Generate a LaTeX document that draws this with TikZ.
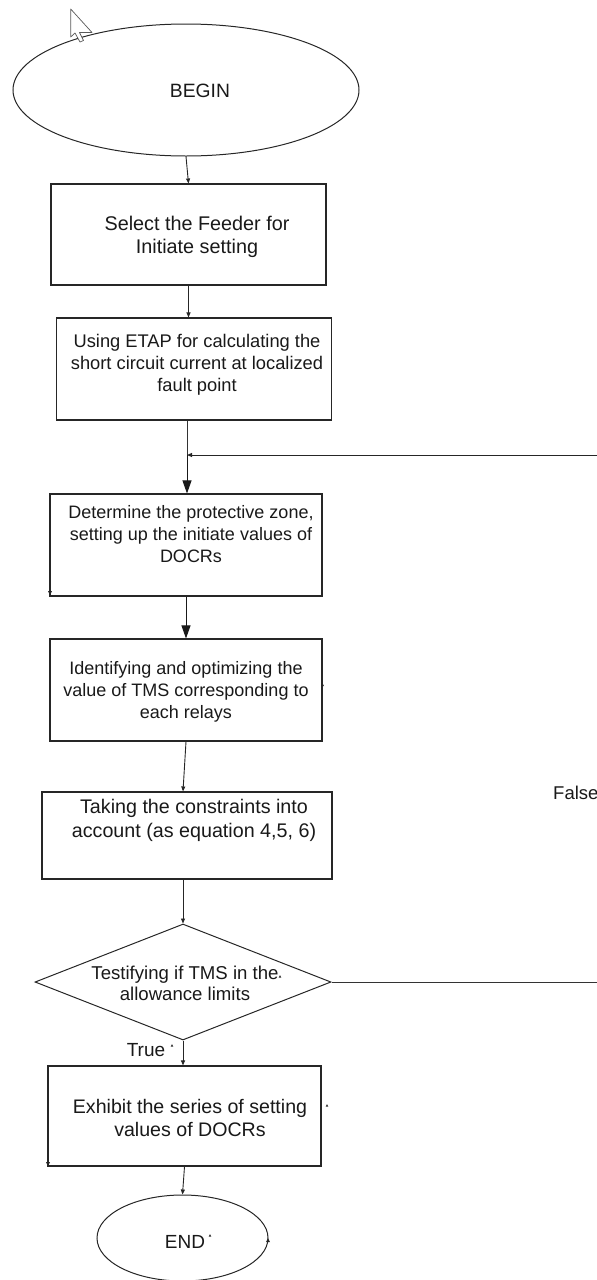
\documentclass[tikz,border=0pt]{standalone}
\usepackage{fontspec}
\setmainfont{Liberation Sans}
\usetikzlibrary{shapes.geometric,arrows.meta}
\begin{document}
\begin{tikzpicture}[x=1pt,y=-1pt,
  box/.style={draw=black!85, line width=1.1pt, inner sep=0pt},
  oval/.style={draw=black!85, line width=1pt, ellipse, inner sep=0pt},
  dia/.style={draw=black!85, line width=1pt, diamond, inner sep=0pt},
  txt/.style={font=\fontsize{18}{22}\selectfont, align=center, text=black!90, inner sep=0pt},
  big/.style={font=\fontsize{19.7}{23.5}\selectfont},
  arr/.style={draw=black!85, line width=0.9pt, -{Triangle[length=5pt,width=4pt]}},
  bigarr/.style={draw=black!90, line width=0.9pt, -{Triangle[length=13pt,width=9pt]}},
  ln/.style={draw=black!80, line width=1pt},
  tinytip/.style={fill=black!85}
]
\useasboundingbox (0,0) rectangle (597,1280);

% shapes
\node[oval, minimum width=346pt, minimum height=132pt] (begin) at (186,90) {};
\node[box, minimum width=275pt, minimum height=101pt] (b1) at (188.5,234.5) {};
\node[box, minimum width=275pt, minimum height=102pt] (b2) at (194,369) {};
\node[box, minimum width=272pt, minimum height=102pt] (b3) at (186,545) {};
\node[box, minimum width=272pt, minimum height=102pt] (b4) at (186,690) {};
\node[box, minimum width=290pt, minimum height=87pt] (b5) at (187,835.5) {};
\node[dia, minimum width=296pt, minimum height=116pt] (d) at (183,982) {};
\node[box, minimum width=273pt, minimum height=100pt] (b6) at (184.5,1116) {};
\node[oval, minimum width=171pt, minimum height=86pt] (end) at (182.5,1238) {};

% texts
\node[txt, font=\fontsize{19.3}{23}\selectfont] (t0) at (200,91) {BEGIN};
\node[txt, font=\fontsize{19.8}{23}\selectfont] (t1) at (197,237) {Select the Feeder for\\Initiate setting};
\node[txt, font=\fontsize{18.3}{22}\selectfont] (t2) at (197,365) {Using ETAP for calculating the\\short circuit current at localized\\fault point};
\node[txt] (t3) at (191,534) {Determine the protective zone,\\setting up the initiate values of\\DOCRs};
\node[txt] (t4) at (186,692) {Identifying and optimizing the\\value of TMS corresponding to\\each relays};
\node[txt, font=\fontsize{19.7}{24}\selectfont] (t5) at (194,820) {Taking the constraints into\\account (as equation 4,5, 6)};
\node[txt, font=\fontsize{18.6}{21}\selectfont] (t6) at (185,983) {Testifying if TMS in the\\allowance limits};
\node[txt, font=\fontsize{19.6}{23}\selectfont] (t7) at (190,1118) {Exhibit the series of setting\\values of DOCRs};
\node[txt, font=\fontsize{19}{23}\selectfont] (t8) at (185,1242) {END};
\node[txt, font=\fontsize{19}{23}\selectfont] (ltrue) at (146,1050) {True};
\node[txt, font=\fontsize{18.5}{22}\selectfont, anchor=west] (lfalse) at (553,793) {False};

% coordinates
\coordinate (J) at (187,455);
\coordinate (R1) at (597,455);
\coordinate (R2) at (597,982);

% connectors
\draw[arr] (begin.south) -- (b1.north);
\draw[arr] (b1.south) -- (b1.south |- b2.north);
\draw[ln] (b2.south -| J) -- (J);
\draw[arr] (R1) -- (J);
\draw[bigarr] (J) -- (J |- b3.north);
\draw[bigarr] (b3.south) -- (b4.north);
\draw[arr] (b4.south) -- (d.north |- b5.north);
\draw[arr] (d.north |- b5.south) -- (d.north);
\draw[ln] (d.east) -- (R2);
\draw[arr] (d.south) -- (d.south |- b6.north);
\draw[arr] (b6.south) -- (end.north);

% cursor
\filldraw[fill=white, draw=black!65, line width=0.7pt, line join=round]
  (70.7,9) -- (70.7,37) -- (75,33) -- (80,42) -- (83.5,40.5) -- (79.5,32.5) -- (92,32.5) -- cycle;

% stray tiny arrowheads
\fill[tinytip] (50,595) -- ++(-2,-4) -- ++(4,0) -- cycle;
\fill[tinytip] (322.5,683) -- ++(-1.5,3) -- ++(3,0) -- cycle;
\fill[tinytip] (280,975) -- ++(-1.3,2.6) -- ++(2.6,0) -- cycle;
\fill[tinytip] (172,1044) -- ++(-1.3,2.6) -- ++(2.6,0) -- cycle;
\fill[tinytip] (48,1166) -- ++(-2,-4) -- ++(4,0) -- cycle;
\fill[tinytip] (327,1104) -- ++(-1.3,2.6) -- ++(2.6,0) -- cycle;
\fill[tinytip] (210,1234) -- ++(-1.3,2.6) -- ++(2.6,0) -- cycle;
\fill[tinytip] (268,1238) -- ++(-2,4) -- ++(4,0) -- cycle;
\end{tikzpicture}
\end{document}
